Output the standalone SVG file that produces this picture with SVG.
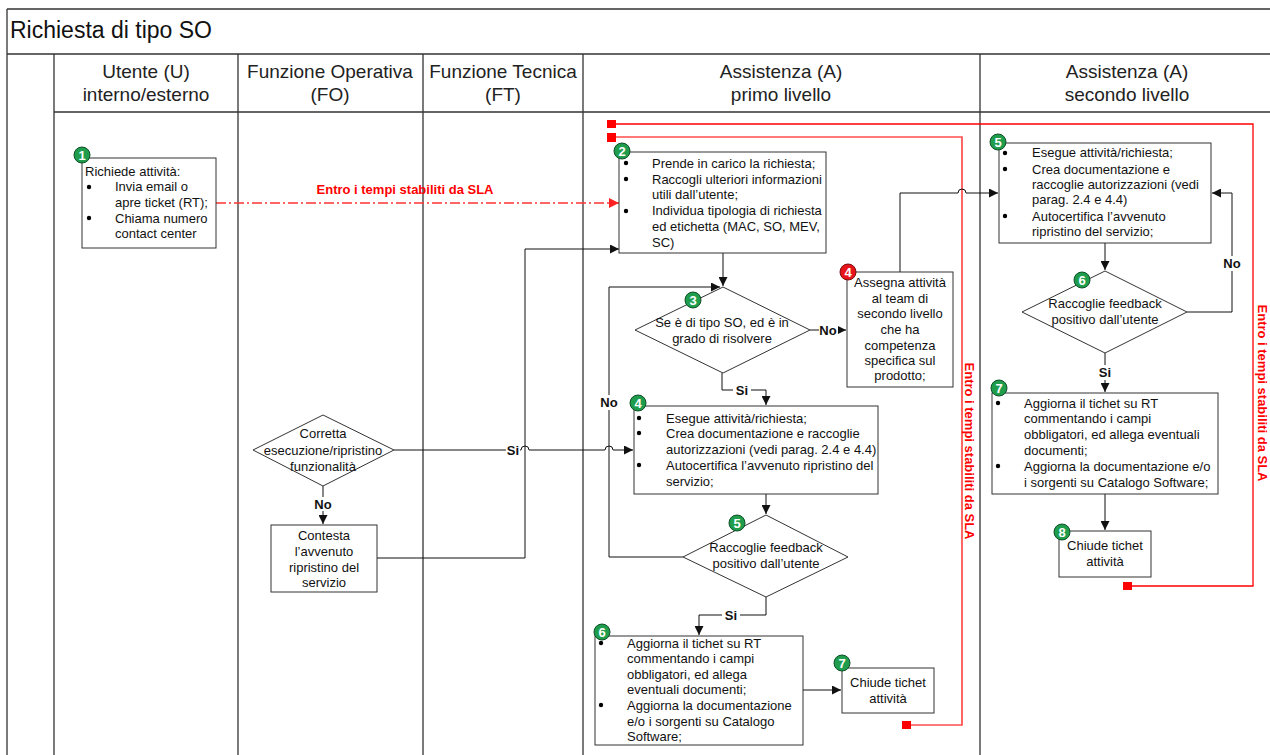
<svg xmlns="http://www.w3.org/2000/svg" width="1270" height="755" viewBox="0 0 1270 755">
<defs>
<style>
.lane{stroke:#333;stroke-width:1.3;fill:none}
.box{fill:#fff;stroke:#333;stroke-width:1}
.t{font-family:"Liberation Sans",Arial,sans-serif;font-size:13px;fill:#111}
.h{font-family:"Liberation Sans",Arial,sans-serif;font-size:19px;fill:#222;text-anchor:middle}
.c{text-anchor:middle}
.b{font-weight:bold}
.conn{stroke:#111;stroke-width:1;fill:none}
.red{stroke:#f00;stroke-width:1.3;fill:none}
.red2{stroke:#ff4d4d;stroke-width:1.7;fill:none}
.rl{font-family:"Liberation Sans",Arial,sans-serif;font-size:13px;font-weight:bold;fill:#f00;text-anchor:middle}
.bg{fill:#1f9d4d;stroke:#0d4f26;stroke-width:1}
.br{fill:#e8141c;stroke:#7a0a0a;stroke-width:1}
.bn{font-family:"Liberation Sans",Arial,sans-serif;font-size:13px;font-weight:bold;fill:#fff;text-anchor:middle}
.dot{fill:#000}
.sq{fill:#f00}
</style>
<marker id="ar" viewBox="0 0 10 10" refX="10" refY="5" markerWidth="10" markerHeight="9" markerUnits="userSpaceOnUse" orient="auto"><path d="M0,0 L10,5 L0,10 z" fill="#111"/></marker>
<marker id="arr" viewBox="0 0 10 10" refX="10" refY="5" markerWidth="12" markerHeight="10" markerUnits="userSpaceOnUse" orient="auto"><path d="M0,0 L10,5 L0,10 z" fill="#f22"/></marker>
</defs>
<rect width="1270" height="755" fill="#fff"/>
<g id="frame">
<path class="lane" d="M7,9 H1270 M7,9 V755 M7,54 H1270 M54,112 H1270 M54,54 V755 M238,54 V755 M423,54 V755 M583,54 V755 M980,54 V755"/>
<text x="10" y="38" font-family="Liberation Sans, Arial, sans-serif" font-size="23" fill="#111">Richiesta di tipo SO</text>
<text class="h" x="146" y="78">Utente (U)</text>
<text class="h" x="146" y="101">interno/esterno</text>
<text class="h" x="330" y="78">Funzione Operativa</text>
<text class="h" x="330" y="101">(FO)</text>
<text class="h" x="503" y="78">Funzione Tecnica</text>
<text class="h" x="503" y="101">(FT)</text>
<text class="h" x="781" y="78">Assistenza (A)</text>
<text class="h" x="781" y="101">primo livello</text>
<text class="h" x="1127" y="78">Assistenza (A)</text>
<text class="h" x="1127" y="101">secondo livello</text>
</g>
<g id="connectors">
<path d="M216,203 H619" stroke="#f33" stroke-width="1.6" fill="none" stroke-dasharray="10,3,2,3" marker-end="url(#arr)"/>
<text class="rl" x="405" y="194">Entro i tempi stabiliti da SLA</text>
<path class="red" d="M612,124 H1253 V586 H1128"/>
<rect class="sq" x="607" y="120" width="9" height="8"/>
<rect class="sq" x="1123" y="582" width="9" height="8"/>
<path class="red2" d="M612,137 H962 V725 H907"/>
<rect class="sq" x="607" y="133" width="9" height="9"/>
<rect class="sq" x="902" y="721" width="9" height="8"/>
<text class="rl" transform="translate(1258,393) rotate(90)">Entro i tempi stabiliti da SLA</text>
<text class="rl" transform="translate(965,451) rotate(90)">Entro i tempi stabiliti da SLA</text>
<path class="conn" d="M377,558 H525 V249 H619" marker-end="url(#ar)"/>
<path class="conn" d="M723,253 V286" marker-end="url(#ar)"/>
<path class="conn" d="M683,557 H609 V287 H720" marker-end="url(#ar)"/>
<path class="conn" d="M810,330 H846" marker-end="url(#ar)"/>
<path class="conn" d="M900,272 V193 H958 A4,4 0 0 1 966,193 H998" marker-end="url(#ar)"/>
<path class="conn" d="M722,373 V390 H766 V405" marker-end="url(#ar)"/>
<path class="conn" d="M394,450 H521 A4,4 0 0 1 529,450 H605 A4,4 0 0 1 613,450 H633" marker-end="url(#ar)"/>
<path class="conn" d="M323,486 V524" marker-end="url(#ar)"/>
<path class="conn" d="M766,494 V514" marker-end="url(#ar)"/>
<path class="conn" d="M766,597 V615 H699 V635" marker-end="url(#ar)"/>
<path class="conn" d="M803,690 H841" marker-end="url(#ar)"/>
<path class="conn" d="M1105,243 V270" marker-end="url(#ar)"/>
<path class="conn" d="M1187,312 H1232 V193 H1212" marker-end="url(#ar)"/>
<path class="conn" d="M1105,353 V392" marker-end="url(#ar)"/>
<path class="conn" d="M1105,494 V530" marker-end="url(#ar)"/>
<rect x="819" y="322" width="19" height="15" fill="#fff"/>
<text class="t b c" x="828" y="335">No</text>
<rect x="733" y="383" width="18" height="14" fill="#fff"/>
<text class="t b c" x="742" y="395">Si</text>
<rect x="506" y="443" width="14" height="14" fill="#fff"/>
<text class="t b c" x="513" y="455">Si</text>
<rect x="314" y="497" width="19" height="14" fill="#fff"/>
<text class="t b c" x="323" y="509">No</text>
<rect x="599" y="395" width="20" height="15" fill="#fff"/>
<text class="t b c" x="609" y="407">No</text>
<rect x="722" y="608" width="18" height="14" fill="#fff"/>
<text class="t b c" x="731" y="620">Si</text>
<rect x="1222" y="256" width="20" height="15" fill="#fff"/>
<text class="t b c" x="1232" y="268">No</text>
<rect x="1096" y="365" width="18" height="15" fill="#fff"/>
<text class="t b c" x="1105" y="377">Si</text>
</g>
<g id="n1">
<rect class="box" x="82" y="158" width="134" height="90"/>
<text class="t" x="85" y="176">Richiede attività:</text>
<circle class="dot" cx="89" cy="187" r="2.2"/>
<circle class="dot" cx="89" cy="218" r="2.2"/>
<text class="t" x="115" y="191">Invia email o</text>
<text class="t" x="115" y="207">apre ticket (RT);</text>
<text class="t" x="115" y="223">Chiama numero</text>
<text class="t" x="115" y="238">contact center</text>
<circle class="bg" cx="82" cy="155" r="8"/><text class="bn" x="82" y="160">1</text>
</g>
<g id="n2">
<rect class="box" x="619" y="152" width="207" height="101"/>
<circle class="dot" cx="626" cy="163" r="2.2"/>
<circle class="dot" cx="626" cy="179" r="2.2"/>
<circle class="dot" cx="626" cy="211" r="2.2"/>
<text class="t" x="652" y="168">Prende in carico la richiesta;</text>
<text class="t" x="652" y="184">Raccogli ulteriori informazioni</text>
<text class="t" x="652" y="199">utili  dall’utente;</text>
<text class="t" x="652" y="215">Individua tipologia di richiesta</text>
<text class="t" x="652" y="231">ed etichetta (MAC, SO, MEV,</text>
<text class="t" x="652" y="247">SC)</text>
<circle class="bg" cx="622" cy="151" r="8"/><text class="bn" x="622" y="156">2</text>
</g>
<g id="n3">
<path class="box" d="M723,287 L810,330 L723,373 L635,330 Z"/>
<text class="t c" x="722" y="327">Se è di tipo SO, ed è in</text>
<text class="t c" x="722" y="343">grado di risolvere</text>
<circle class="bg" cx="693" cy="300" r="8"/><text class="bn" x="693" y="305">3</text>
</g>
<g id="n4b">
<rect class="box" x="847" y="272" width="106" height="115"/>
<text class="t c" x="900" y="287">Assegna attività</text>
<text class="t c" x="900" y="303">al team di</text>
<text class="t c" x="900" y="318">secondo livello</text>
<text class="t c" x="900" y="334">che ha</text>
<text class="t c" x="900" y="350">competenza</text>
<text class="t c" x="900" y="365">specifica sul</text>
<text class="t c" x="900" y="380">prodotto;</text>
<circle class="br" cx="848" cy="272" r="8"/><text class="bn" x="848" y="277">4</text>
</g>
<g id="n4">
<rect class="box" x="634" y="406" width="244" height="88"/>
<circle class="dot" cx="639" cy="418" r="2.2"/>
<circle class="dot" cx="639" cy="433" r="2.2"/>
<circle class="dot" cx="639" cy="465" r="2.2"/>
<text class="t" x="666" y="423">Esegue attività/richiesta;</text>
<text class="t" x="666" y="438">Crea documentazione e  raccoglie</text>
<text class="t" x="666" y="454">autorizzazioni (vedi parag. 2.4 e 4.4)</text>
<text class="t" x="666" y="470">Autocertifica l’avvenuto ripristino del</text>
<text class="t" x="666" y="486">servizio;</text>
<circle class="bg" cx="638" cy="403" r="8"/><text class="bn" x="638" y="408">4</text>
</g>
<g id="n5">
<path class="box" d="M766,515 L848,557 L766,597 L683,557 Z"/>
<text class="t c" x="766" y="552">Raccoglie feedback</text>
<text class="t c" x="766" y="568">positivo dall’utente</text>
<circle class="bg" cx="737" cy="523" r="8"/><text class="bn" x="737" y="528">5</text>
</g>
<g id="n6">
<rect class="box" x="595" y="636" width="208" height="109"/>
<circle class="dot" cx="601" cy="643" r="2.2"/>
<circle class="dot" cx="601" cy="705" r="2.2"/>
<text class="t" x="627" y="648">Aggiorna il tichet su RT</text>
<text class="t" x="627" y="663">commentando i campi</text>
<text class="t" x="627" y="679">obbligatori, ed allega</text>
<text class="t" x="627" y="694">eventuali documenti;</text>
<text class="t" x="627" y="710">Aggiorna la documentazione</text>
<text class="t" x="627" y="726">e/o i sorgenti su Catalogo</text>
<text class="t" x="627" y="741">Software;</text>
<circle class="bg" cx="602" cy="632" r="8"/><text class="bn" x="602" y="637">6</text>
</g>
<g id="n7">
<rect class="box" x="842" y="668" width="92" height="45"/>
<text class="t c" x="888" y="687">Chiude tichet</text>
<text class="t c" x="888" y="703">attività</text>
<circle class="bg" cx="842" cy="663" r="8"/><text class="bn" x="842" y="668">7</text>
</g>
<g id="nFO1">
<path class="box" d="M323,415 L394,450 L323,486 L253,450 Z"/>
<text class="t c" x="323" y="438">Corretta</text>
<text class="t c" x="323" y="455">esecuzione/ripristino</text>
<text class="t c" x="323" y="471">funzionalità</text>
</g>
<g id="nFO2">
<rect class="box" x="271" y="525" width="106" height="67"/>
<text class="t c" x="324" y="540">Contesta</text>
<text class="t c" x="324" y="556">l’avvenuto</text>
<text class="t c" x="324" y="572">ripristino del</text>
<text class="t c" x="324" y="587">servizio</text>
</g>
<g id="s5">
<rect class="box" x="999" y="143" width="212" height="100"/>
<circle class="dot" cx="1005" cy="153" r="2.2"/>
<circle class="dot" cx="1005" cy="169" r="2.2"/>
<circle class="dot" cx="1005" cy="216" r="2.2"/>
<text class="t" x="1032" y="157">Esegue attività/richiesta;</text>
<text class="t" x="1032" y="174">Crea documentazione e</text>
<text class="t" x="1032" y="189">raccoglie autorizzazioni (vedi</text>
<text class="t" x="1032" y="204">parag. 2.4 e 4.4)</text>
<text class="t" x="1032" y="221">Autocertifica l’avvenuto</text>
<text class="t" x="1032" y="236">ripristino del servizio;</text>
<circle class="bg" cx="998" cy="142" r="8"/><text class="bn" x="998" y="147">5</text>
</g>
<g id="s6">
<path class="box" d="M1105,271 L1187,312 L1105,353 L1022,312 Z"/>
<text class="t c" x="1105" y="308">Raccoglie feedback</text>
<text class="t c" x="1105" y="324">positivo dall’utente</text>
<circle class="bg" cx="1082" cy="280" r="8"/><text class="bn" x="1082" y="285">6</text>
</g>
<g id="s7">
<rect class="box" x="992" y="393" width="226" height="101"/>
<circle class="dot" cx="998" cy="403" r="2.2"/>
<circle class="dot" cx="998" cy="466" r="2.2"/>
<text class="t" x="1024" y="408">Aggiorna il tichet su RT</text>
<text class="t" x="1024" y="423">commentando i campi</text>
<text class="t" x="1024" y="439">obbligatori, ed allega eventuali</text>
<text class="t" x="1024" y="455">documenti;</text>
<text class="t" x="1024" y="471">Aggiorna la documentazione e/o</text>
<text class="t" x="1024" y="487">i sorgenti su Catalogo Software;</text>
<circle class="bg" cx="999" cy="388" r="8"/><text class="bn" x="999" y="393">7</text>
</g>
<g id="s8">
<rect class="box" x="1059" y="531" width="92" height="46"/>
<text class="t c" x="1105" y="550">Chiude tichet</text>
<text class="t c" x="1105" y="566">attività</text>
<circle class="bg" cx="1062" cy="532" r="8"/><text class="bn" x="1062" y="537">8</text>
</g>
</svg>
